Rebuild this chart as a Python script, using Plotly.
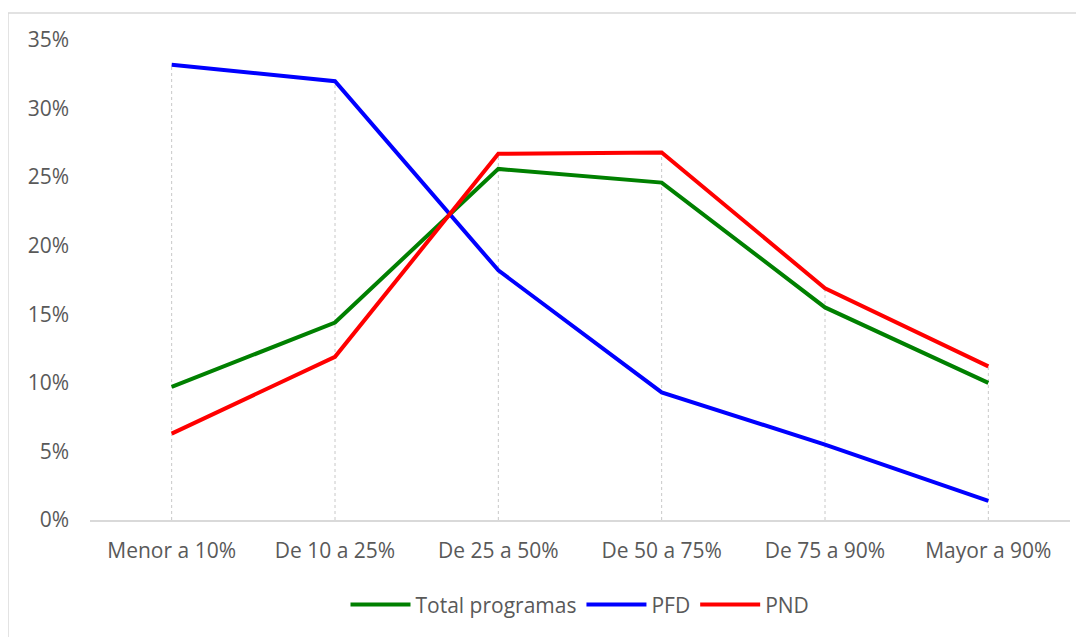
import plotly.graph_objects as go

categories = ["Menor a 10%", "De 10 a 25%", "De 25 a 50%", "De 50 a 75%", "De 75 a 90%", "Mayor a 90%"]
total_programas = [0.097, 0.144, 0.256, 0.246, 0.155, 0.100]
pfd = [0.332, 0.320, 0.182, 0.093, 0.055, 0.014]
pnd = [0.063, 0.119, 0.267, 0.268, 0.169, 0.112]
y_ticks = [0, 0.05, 0.10, 0.15, 0.20, 0.25, 0.30, 0.35]
y_tick_labels = ["0%", "5%", "10%", "15%", "20%", "25%", "30%", "35%"]

series = [
    ("Total programas", total_programas, "#008000"),
    ("PFD", pfd, "#0000FF"),
    ("PND", pnd, "#FF0000"),
]

fig = go.Figure()

# drop lines from highest value to the axis
for i, cat in enumerate(categories):
    top = max(total_programas[i], pfd[i], pnd[i])
    fig.add_trace(go.Scatter(
        x=[cat, cat], y=[0, top], mode="lines",
        line=dict(color="#c8c8c8", width=1, dash="dot"),
        showlegend=False, hoverinfo="skip"))

for name, vals, color in series:
    fig.add_trace(go.Scatter(
        x=categories, y=vals, mode="lines", name=name,
        line=dict(color=color, width=4)))

FS = 21
fig.update_layout(
    width=1084, height=637,
    margin=dict(l=82, r=22, t=32, b=125),
    paper_bgcolor="white", plot_bgcolor="white",
    font=dict(family="Open Sans, Liberation Sans, sans-serif", size=FS, color="#595959"),
    legend=dict(orientation="h", x=0.5, xanchor="center", y=-0.177, yanchor="middle",
                font=dict(size=FS, color="#595959"), itemwidth=60,
                tracegroupgap=0),
    xaxis=dict(type="category", range=[-0.5, 5.5], showgrid=False, showline=True,
               linecolor="#d9d9d9", linewidth=2, ticks="", ticklabelstandoff=11,
               tickfont=dict(size=FS, color="#595959")),
    yaxis=dict(range=[0, 0.35], tickvals=y_ticks, ticktext=y_tick_labels,
               showgrid=False, zeroline=False, showline=False, ticks="",
               ticklabelstandoff=20, tickfont=dict(size=FS, color="#595959")),
    shapes=[dict(type="rect", xref="paper", yref="paper",
                 x0=-0.0837, x1=1.03, y0=-0.3, y1=1.056,
                 line=dict(color="#d9d9d9", width=1.5), fillcolor="rgba(0,0,0,0)", layer="below")],
)

fig.write_html("out.html")
